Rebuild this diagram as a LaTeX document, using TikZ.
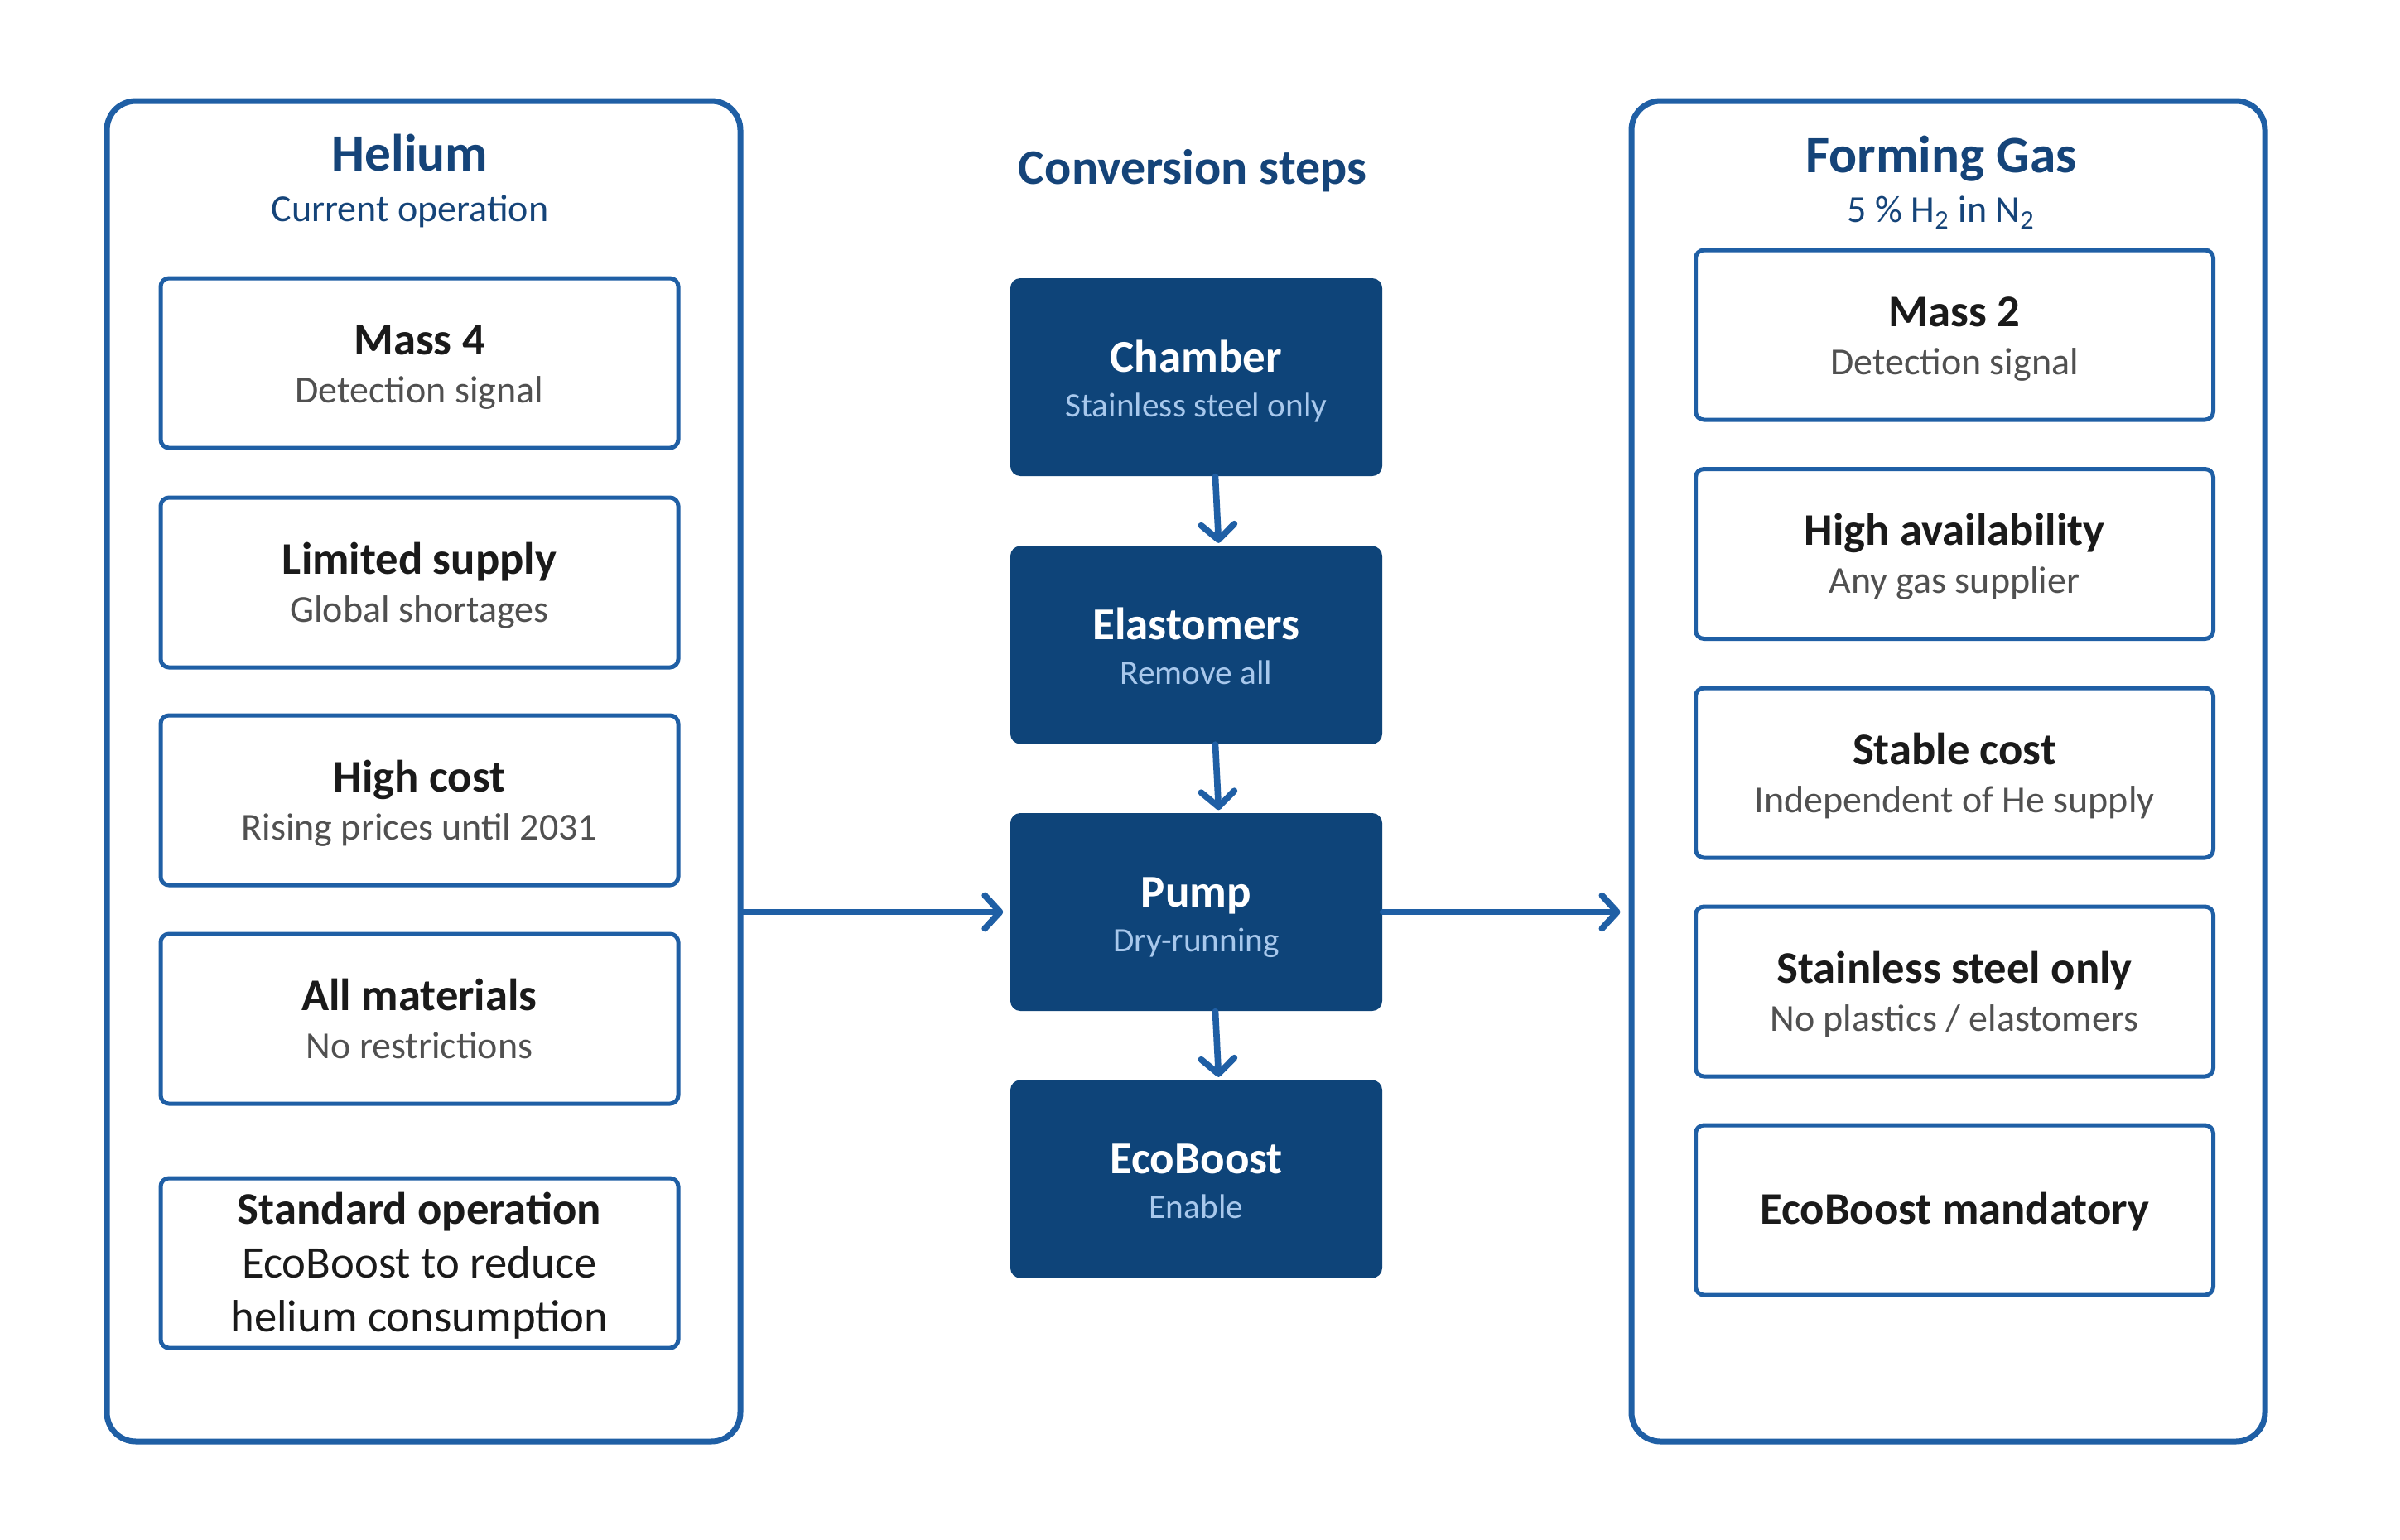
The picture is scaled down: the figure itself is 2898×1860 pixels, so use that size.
\documentclass[tikz,border=0pt]{standalone}
\usepackage{fontspec}
\setmainfont{Carlito}
\usetikzlibrary{arrows.meta,calc}
\definecolor{lineblue}{HTML}{1F5FA5}
\definecolor{darkfill}{HTML}{0E4479}
\definecolor{titleblue}{HTML}{154479}
\definecolor{lightblue}{HTML}{A8C8EC}
\definecolor{subgray}{HTML}{505050}
\definecolor{tblack}{HTML}{1A1A1A}
\newcommand\bt[1]{{\fontsize{16.4}{17.4}\selectfont\bfseries\color{tblack}#1}}
\newcommand\bs[1]{{\fontsize{13.8}{17.4}\selectfont\color{subgray}#1}}
\newcommand\dt[1]{{\fontsize{16.5}{16.2}\selectfont\bfseries\color{white}#1}}
\newcommand\ds[1]{{\fontsize{12.4}{16.2}\selectfont\color{lightblue}#1}}
% two-line light box text with fixed struts
\newcommand\lt[2]{\rule{0pt}{15.6pt}\bt{#1}\\ \bs{#2}\rule[-4.5pt]{0pt}{4.5pt}}
% two-line dark box text with fixed struts
\newcommand\dk[2]{\rule{0pt}{16.8pt}\dt{#1}\\ \ds{#2}\rule[-4.5pt]{0pt}{4.5pt}}
\begin{document}
\begin{tikzpicture}[x=0.3pt,y=-0.3pt,
  panel/.style={draw=lineblue, line width=2.1pt, rounded corners=10.5pt,
    minimum width=229.5pt, minimum height=485.7pt, inner sep=0pt},
  lbox/.style={draw=lineblue, fill=white, line width=1.5pt, rounded corners=3pt,
    minimum width=187.5pt, minimum height=61.5pt, align=center, inner sep=0pt,
    font=\fontsize{13.8}{17.4}\selectfont},
  dbox/.style={fill=darkfill, rounded corners=3.6pt,
    minimum width=134.7pt, minimum height=71.7pt, align=center, inner sep=0pt,
    font=\fontsize{12.4}{16.2}\selectfont},
  ptitle/.style={anchor=base, text=titleblue, font=\fontsize{19}{21}\selectfont\bfseries, inner sep=0pt},
  psub/.style={anchor=base, text=titleblue, font=\fontsize{13.8}{15}\selectfont, inner sep=0pt},
  conn/.style={draw=lineblue, line width=2.3pt, line cap=round,
    -{Straight Barb[length=5.5pt,width=12pt,line cap=round,line join=round]}}
]
\useasboundingbox (0,0) rectangle (2898,1860);
\fill[white] (0,0) rectangle (2898,1860);

% panels
\node[panel] (lpanel) at (511.5,931.5) {};
\node[panel] (rpanel) at (2352.5,931.5) {};

% titles
\node[ptitle] (htitle) at (495,207) {Helium};
\node[psub] (hsub) at (495,267) {Current operation};
\node[ptitle, font=\fontsize{18}{20}\selectfont\bfseries] (ctitle) at (1440,222) {Conversion steps};
\node[ptitle] (ftitle) at (2344,209) {Forming Gas};
\node[psub] (fsub) at (2344,269) {5 \% H\textsubscript{2} in N\textsubscript{2}};

% left boxes
\node[lbox] (l1) at (506.5,438.5) {\lt{Mass 4}{Detection signal}};
\node[lbox] (l2) at (506.5,703.5) {\lt{Limited supply}{Global shortages}};
\node[lbox] (l3) at (506.5,966.5) {\lt{High cost}{Rising prices until 2031}};
\node[lbox] (l4) at (506.5,1230.5) {\lt{All materials}{No restrictions}};
\node[lbox, font=\fontsize{16.4}{19.5}\selectfont\color{tblack}] (l5) at (506.5,1525.5)
  {\rule{0pt}{15pt}{\bfseries Standard operation}\\ EcoBoost to reduce\\ helium consumption\rule[-4.5pt]{0pt}{4.5pt}};

% right boxes
\node[lbox] (r1) at (2360,404.5) {\lt{Mass 2}{Detection signal}};
\node[lbox] (r2) at (2360,669) {\lt{High availability}{Any gas supplier}};
\node[lbox] (r3) at (2360,933.5) {\lt{Stable cost}{Independent of He supply}};
\node[lbox] (r4) at (2360,1197.5) {\lt{Stainless steel only}{No plastics / elastomers}};
\node[lbox] (r5) at (2360,1461.5) {\rule{0pt}{13pt}\bt{EcoBoost mandatory}\rule[-2.6pt]{0pt}{2.6pt}};

% dark boxes
\node[dbox] (d1) at (1444.5,455.5) {\dk{Chamber}{Stainless steel only}};
\node[dbox] (d2) at (1444.5,779) {\dk{Elastomers}{Remove all}};
\node[dbox] (d3) at (1444.5,1101.5) {\dk{Pump}{Dry-running}};
\node[dbox] (d4) at (1444.5,1424) {\dk{EcoBoost}{Enable}};

% connectors
\draw[conn] ($(d1.south)+(23,0)$) -- ($(d2.north)+(27,-3)$);
\draw[conn] ($(d2.south)+(23,0)$) -- ($(d3.north)+(27,-3)$);
\draw[conn] ($(d3.south)+(23,0)$) -- ($(d4.north)+(27,-3)$);
\draw[conn] (lpanel.east |- d3.west) -- ($(d3.west)+(-8,0)$);
\draw[conn] (d3.east) -- ($(rpanel.west |- d3.east)+(-10,0)$);
\end{tikzpicture}
\end{document}
